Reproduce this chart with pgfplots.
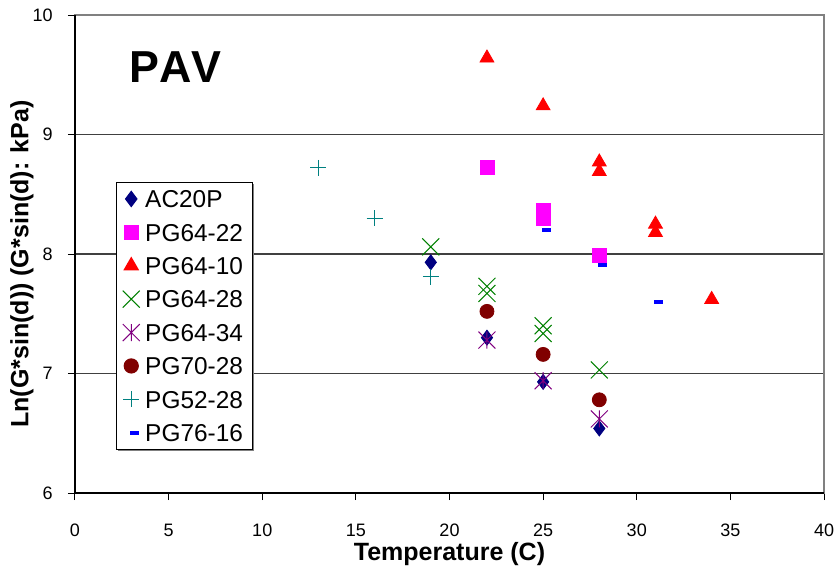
\documentclass[border=0pt]{standalone}
\usepackage{fontspec}
\setmainfont{Liberation Sans}
\usepackage{pgfplots}
\pgfplotsset{compat=1.18}
\usetikzlibrary{shadows}
\pgfdeclareplotmark{xstar}{%
  \pgfpathmoveto{\pgfqpoint{-.7071\pgfplotmarksize}{-.7071\pgfplotmarksize}}%
  \pgfpathlineto{\pgfqpoint{.7071\pgfplotmarksize}{.7071\pgfplotmarksize}}%
  \pgfpathmoveto{\pgfqpoint{-.7071\pgfplotmarksize}{.7071\pgfplotmarksize}}%
  \pgfpathlineto{\pgfqpoint{.7071\pgfplotmarksize}{-.7071\pgfplotmarksize}}%
  \pgfpathmoveto{\pgfqpoint{0pt}{-.7071\pgfplotmarksize}}%
  \pgfpathlineto{\pgfqpoint{0pt}{.7071\pgfplotmarksize}}%
  \pgfusepathqstroke}
\pgfdeclareplotmark{xldash}{%
  \pgfpathrectangle{\pgfqpoint{-0.5pt}{-1pt}}{\pgfqpoint{4.5pt}{2pt}}%
  \pgfusepathqfill}
\definecolor{acnavy}{RGB}{0,0,128}
\definecolor{pgmag}{RGB}{255,0,255}
\definecolor{pgred}{RGB}{255,0,0}
\definecolor{pggreen}{RGB}{0,128,0}
\definecolor{pgpurple}{RGB}{128,0,128}
\definecolor{pgmaroon}{RGB}{128,0,0}
\definecolor{pgteal}{RGB}{0,128,128}
\definecolor{pgblue}{RGB}{0,0,255}
\begin{document}
\begin{tikzpicture}
\begin{axis}[
  at={(0,0)}, anchor=south west,
  scale only axis, width=374.5pt, height=239pt,
  xmin=0, xmax=40, ymin=6, ymax=10,
  xtick={0,5,...,40}, ytick={6,7,8,9,10},
  xtick pos=lower, ytick pos=left,
  tick align=outside, major tick length=3.5pt,
  tick style={black, line width=0.5pt},
  ymajorgrids, grid style={black!75, line width=0.6pt},
  axis line style={black!50, line width=0.6pt},
  /pgf/number format/assume math mode=true,
  ticklabel style={font=\fontsize{9}{10}\selectfont},
  xticklabel style={anchor=base, yshift=-18pt},
  yticklabel style={anchor=east, inner sep=0pt},
  yticklabel={\pgfmathprintnumber{\tick}\hspace*{7.5pt}},
  xlabel={Temperature (C)},
  xlabel style={at={(axis description cs:0.5,-0.1402)}, anchor=base, font=\bfseries\fontsize{12.5}{14}\selectfont},
  ylabel={Ln(G*sin(d)) (G*sin(d): kPa)},
  ylabel style={at={(axis description cs:-0.0708,0.479)}, anchor=center, font=\bfseries\fontsize{12.5}{14}\selectfont},
  legend style={at={(0.0543,0.6514)}, anchor=north west, draw=black, line width=0.6pt, fill=white,
    font=\fontsize{12.2}{14}\selectfont, inner xsep=3.25pt, inner ysep=2.5pt, row sep=5.0pt, column sep=1.25pt,
    nodes={inner sep=1.5pt, text height=8.7pt, text depth=0pt},
    drop shadow={shadow xshift=1pt, shadow yshift=-1pt, fill=black!50, opacity=1}},
  legend cell align=left,
  legend image code/.code={\draw[#1] plot coordinates {(4.25pt,0pt)};},
  only marks,
  clip=false,
]
\addplot[mark=diamond*, mark size=3.75pt, color=acnavy] coordinates {(19,7.93) (22,7.30) (25,6.93) (28,6.54)};
\addlegendentry{AC20P}
\addplot[mark=square*, mark size=3.5pt, color=pgmag] coordinates {(22,8.725) (25,8.367) (25,8.30) (28,7.99)};
\addlegendentry{PG64-22}
\addplot[mark=triangle*, mark size=4pt, color=pgred] coordinates {(22,9.64) (25,9.24) (28,8.77) (28,8.69) (31,8.25) (31,8.18) (34,7.62)};
\addlegendentry{PG64-10}
\addplot[mark=x, mark size=6pt, color=pggreen, line width=0.5pt] coordinates {(19,8.06) (22,7.73) (22,7.67) (25,7.40) (25,7.335) (28,7.03)};
\addlegendentry{PG64-28}
\addplot[mark=xstar, mark size=6pt, color=pgpurple, line width=0.5pt] coordinates {(22,7.28) (25,6.94) (28,6.62)};
\addlegendentry{PG64-34}
\addplot[mark=*, mark size=3.5pt, color=pgmaroon] coordinates {(22,7.52) (25,7.16) (28,6.78)};
\addlegendentry{PG70-28}
\addplot[mark=+, mark size=4pt, color=pgteal, line width=0.5pt] coordinates {(13,8.72) (16,8.30) (19,7.81)};
\addlegendentry{PG52-28}
\addplot[mark=xldash, color=pgblue] coordinates {(25,8.20) (28,7.91) (31,7.60)};
\addlegendentry{PG76-16}
\draw[black, line width=0.6pt] (rel axis cs:0,1) -- (rel axis cs:0,0) -- (rel axis cs:1,0);
\node[anchor=base west, inner sep=0pt, font=\bfseries\fontsize{22.4}{24}\selectfont\addfontfeatures{Kerning=Off}] at (axis cs:2.88,9.436) {PAV};
\end{axis}
\pgfresetboundingbox
\path[use as bounding box] (-37.5pt,-37.5pt) rectangle (382pt,246.5pt);
\end{tikzpicture}
\end{document}
